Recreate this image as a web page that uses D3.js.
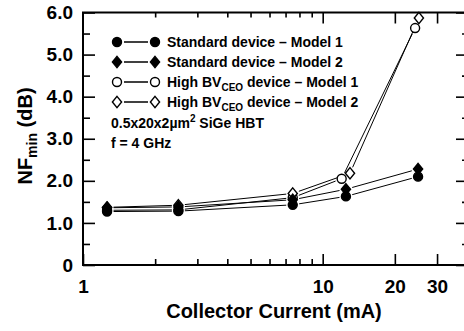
<!DOCTYPE html>
<html>
<head>
<meta charset="utf-8">
<script src="https://cdn.jsdelivr.net/npm/d3@7"></script>
<style>
  html, body { margin: 0; padding: 0; background: #fff; }
  svg { display: block; }
  text { font-family: "Liberation Sans", Arial, Helvetica, sans-serif; font-weight: bold; fill: #000; }
</style>
</head>
<body>
<svg id="chart" width="464" height="331"></svg>
<script>
// ---- Data ----
const currentStd   = [1.26, 2.5, 7.5, 12.5, 25];
const nfStdModel1  = [1.27, 1.28, 1.43, 1.63, 2.10];
const nfStdModel2  = [1.36, 1.38, 1.55, 1.80, 2.28];
const currentHbvM1 = [1.26, 2.5, 7.5, 12.0, 24.3];
const nfHbvModel1  = [1.30, 1.31, 1.60, 2.05, 5.63];
const currentHbvM2 = [1.26, 2.5, 7.5, 13.0, 25.2];
const nfHbvModel2  = [1.37, 1.42, 1.70, 2.18, 5.87];

const xMajorTicks = [1, 10, 20, 30];
const xMinorTicks = [2, 3, 4, 5, 6, 7, 8, 9];
const yMajorTicks = [0, 1, 2, 3, 4, 5, 6];
const yMinorTicks = [0.5, 1.5, 2.5, 3.5, 4.5, 5.5];
const yTickLabels = ["0", "1.0", "2.0", "3.0", "4.0", "5.0", "6.0"];

const seriesNames = [
  "Standard device \u2013 Model 1",
  "Standard device \u2013 Model 2",
  ["High BV", "CEO", " device \u2013 Model 1"],
  ["High BV", "CEO", " device \u2013 Model 2"]
];
const noteLines = ["0.5x20x2\u00B5m", "2", " SiGe HBT"];
const freqNote = "f = 4 GHz";

// ---- Layout ----
const svg = d3.select("#chart");
const L = 83, R = 467, T = 12.5, B = 265;
const x = d3.scaleLog().domain([1, 40]).range([L, R]);
const y = d3.scaleLinear().domain([0, 6]).range([B, T]);

const series = [
  {xs: currentHbvM1, ys: nfHbvModel1, shape: "circle", filled: false},
  {xs: currentHbvM2, ys: nfHbvModel2, shape: "diamond", filled: false},
  {xs: currentStd, ys: nfStdModel1, shape: "circle", filled: true},
  {xs: currentStd, ys: nfStdModel2, shape: "diamond", filled: true}
];

// connecting lines (shortened so they stop short of markers)
const gap = 6.5;
series.forEach(s => {
  for (let i = 0; i < s.xs.length - 1; i++) {
    const x1 = x(s.xs[i]), y1 = y(s.ys[i]), x2 = x(s.xs[i+1]), y2 = y(s.ys[i+1]);
    const d = Math.hypot(x2 - x1, y2 - y1);
    if (d < 2 * gap + 1) continue;
    const ux = (x2 - x1) / d, uy = (y2 - y1) / d;
    svg.append("line")
      .attr("x1", x1 + ux * gap).attr("y1", y1 + uy * gap)
      .attr("x2", x2 - ux * gap).attr("y2", y2 - uy * gap)
      .attr("stroke", "#000").attr("stroke-width", 1);
  }
});

function marker(g, cx, cy, shape, filled) {
  const fill = filled ? "#000" : "#fff";
  if (shape === "circle") {
    g.append("circle").attr("cx", cx).attr("cy", cy).attr("r", 4.5)
      .attr("fill", fill).attr("stroke", "#000").attr("stroke-width", 1.4);
  } else {
    const h = 5.6, w = 4.6;
    g.append("path")
      .attr("d", `M${cx},${cy-h}L${cx+w},${cy}L${cx},${cy+h}L${cx-w},${cy}Z`)
      .attr("fill", fill).attr("stroke", "#000").attr("stroke-width", 1.4);
  }
}

series.forEach(s => {
  s.xs.forEach((v, i) => marker(svg, x(v), y(s.ys[i]), s.shape, s.filled));
});

// ---- Axes frame ----
const frame = svg.append("g");
frame.append("line").attr("x1", L).attr("x2", L).attr("y1", T).attr("y2", B + 1)
  .attr("stroke", "#000").attr("stroke-width", 2);
frame.append("line").attr("x1", L - 1).attr("x2", R).attr("y1", B).attr("y2", B)
  .attr("stroke", "#000").attr("stroke-width", 2);
frame.append("line").attr("x1", L - 1).attr("x2", R).attr("y1", T).attr("y2", T)
  .attr("stroke", "#000").attr("stroke-width", 2);
frame.append("line").attr("x1", R).attr("x2", R).attr("y1", T).attr("y2", B)
  .attr("stroke", "#000").attr("stroke-width", 2);

function styleAxis(g) {
  g.select(".domain").remove();
  g.selectAll(".tick line").attr("stroke", "#000").attr("stroke-width", 1.6);
  g.selectAll("text").style("font-size", "19px").attr("fill", "#000");
}

// bottom
svg.append("g").attr("transform", `translate(0,${B})`)
  .call(d3.axisBottom(x).tickValues(xMajorTicks).tickSize(-11).tickPadding(15).tickFormat(d3.format("d")))
  .call(styleAxis);
svg.append("g").attr("transform", `translate(0,${B})`)
  .call(d3.axisBottom(x).tickValues(xMinorTicks).tickSize(-6).tickFormat(""))
  .call(styleAxis);
// top
svg.append("g").attr("transform", `translate(0,${T})`)
  .call(d3.axisTop(x).tickValues(xMajorTicks.slice(1)).tickSize(-11).tickFormat(""))
  .call(styleAxis);
svg.append("g").attr("transform", `translate(0,${T})`)
  .call(d3.axisTop(x).tickValues(xMinorTicks).tickSize(-5).tickFormat(""))
  .call(styleAxis);
// left
svg.append("g").attr("transform", `translate(${L},0)`)
  .call(d3.axisLeft(y).tickValues(yMajorTicks).tickSize(-12).tickPadding(10)
    .tickFormat((d, i) => yTickLabels[i]))
  .call(styleAxis);
svg.append("g").attr("transform", `translate(${L},0)`)
  .call(d3.axisLeft(y).tickValues(yMinorTicks).tickSize(-7).tickFormat(""))
  .call(styleAxis);
// right
svg.append("g").attr("transform", `translate(${R},0)`)
  .call(d3.axisRight(y).tickValues(yMajorTicks).tickSize(-11).tickFormat(""))
  .call(styleAxis);
svg.append("g").attr("transform", `translate(${R},0)`)
  .call(d3.axisRight(y).tickValues(yMinorTicks).tickSize(-5).tickFormat(""))
  .call(styleAxis);

// ---- Axis titles ----
svg.append("text").attr("x", 274).attr("y", 318).attr("text-anchor", "middle")
  .style("font-size", "20px").text("Collector Current (mA)");

const yt = svg.append("text").attr("transform", "translate(32,136) rotate(-90)")
  .attr("text-anchor", "middle").style("font-size", "20px");
yt.append("tspan").text("NF");
yt.append("tspan").attr("dy", 5).style("font-size", "14px").text("min");
yt.append("tspan").attr("dy", -5).text(" (dB)");

// ---- Legend ----
const legendShapes = [
  {shape: "circle", filled: true},
  {shape: "diamond", filled: true},
  {shape: "circle", filled: false},
  {shape: "diamond", filled: false}
];
const lg = svg.append("g");
legendShapes.forEach((s, i) => {
  const cy = 42 + i * 20;
  lg.append("line").attr("x1", 124).attr("x2", 148).attr("y1", cy).attr("y2", cy)
    .attr("stroke", "#000").attr("stroke-width", 1.5);
  marker(lg, 117, cy, s.shape, s.filled);
  marker(lg, 155, cy, s.shape, s.filled);
  const t = lg.append("text").attr("x", 167).attr("y", cy + 5).style("font-size", "14px");
  const name = seriesNames[i];
  if (typeof name === "string") {
    t.text(name);
  } else {
    t.append("tspan").text(name[0]);
    t.append("tspan").attr("dy", 4).style("font-size", "10px").text(name[1]);
    t.append("tspan").attr("dy", -4).text(name[2]);
  }
});
const nt = lg.append("text").attr("x", 111).attr("y", 128).style("font-size", "14px");
nt.append("tspan").text(noteLines[0]);
nt.append("tspan").attr("dy", -6).style("font-size", "10px").text(noteLines[1]);
nt.append("tspan").attr("dy", 6).text(noteLines[2]);
lg.append("text").attr("x", 111).attr("y", 148).style("font-size", "14px").text(freqNote);
</script>
</body>
</html>
